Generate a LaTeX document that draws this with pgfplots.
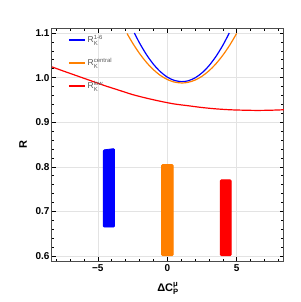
\documentclass[border=0pt]{standalone}
\usepackage{fontspec}
\setmainfont{Liberation Sans}
\usepackage{amsmath}
\usepackage{pgfplots}
\pgfplotsset{compat=1.18}
\definecolor{mblue}{rgb}{0,0,1}
\definecolor{morange}{rgb}{1,0.5,0}
\definecolor{mred}{rgb}{1,0,0}
\begin{document}
\begin{tikzpicture}[x=1pt,y=1pt]
\path (-52,-41) rectangle (248,261);
\begin{axis}[at={(0,0)}, anchor=south west, scale only axis, width=232pt, height=232pt,
  xmin=-8.3, xmax=8.4, ymin=0.589, ymax=1.109,
  xtick={-5,0,5}, xticklabels={−5,0,5},
  ytick={0.6,0.7,0.8,0.9,1.0,1.1}, yticklabels={0.6,0.7,0.8,0.9,1.0,1.1},
  minor xtick={-8,-7,-6,-4,-3,-2,-1,1,2,3,4,6,7,8},
  minor ytick={0.62,0.64,0.66,0.68,0.72,0.74,0.76,0.78,0.82,0.84,0.86,0.88,0.92,0.94,0.96,0.98,1.02,1.04,1.06,1.08},
  major tick length=4pt, minor tick length=2.5pt,
  tick style={black, line width=0.6pt},
  grid=major, major grid style={gray!22, line width=0.6pt},
  axis line style={gray!60!black, line width=1pt},
  ticklabel style={font=\bfseries\fontsize{10}{12}\selectfont},
  yticklabel style={xshift=1pt},
  xlabel={ΔC$^{\text{μ}}_{\text{P}}$}, ylabel={R},
  label style={font=\bfseries\fontsize{11}{13}\selectfont},
  ylabel style={at={(axis description cs:-0.125,0.5)}, anchor=center},
  xlabel style={at={(axis description cs:0.5,-0.118)}, anchor=center},
  legend style={at={(axis description cs:0.055,0.99)}, anchor=north west, draw=none, fill=none,
    font=\fontsize{8.5}{10}\selectfont\color{gray!70!black}, row sep=10.5pt, cells={anchor=west}},
  legend image code/.code={\draw[#1, line width=1.7pt] (0pt,0pt) -- (16pt,0pt);},
]
\addplot[mblue, line width=1.2pt, smooth] coordinates {
(-2.37,1.100) (-2,1.0777) (-1.5,1.0516) (-1,1.0301) (-0.5,1.0133) (0,1.0012) (0.5,0.9938)
(1.045,0.991) (1.5,0.9929) (2,0.9995) (2.5,1.0108) (3,1.0267) (3.5,1.0474) (4,1.0726) (4.46,1.100)};
\addlegendentry{R$_\text{K}^\text{1-6}$}
\addplot[morange, line width=1.2pt, smooth] coordinates {
(-2.9,1.099) (-2.5,1.0776) (-2,1.0541) (-1.5,1.0342) (-1,1.0178) (-0.5,1.0050) (0,0.9958)
(0.5,0.9901) (1.045,0.988) (1.5,0.9895) (2,0.9945) (2.5,1.0031) (3,1.0153) (3.5,1.0310)
(4,1.0503) (4.5,1.0731) (4.99,1.099)};
\addlegendentry{R$_\text{K}^\text{central}$}
\addplot[mred, line width=1.2pt, smooth] coordinates {
(-8.3,1.024) (-7.5,1.015) (-6.5,1.004) (-5.5,0.993) (-4.5,0.982) (-3.5,0.972) (-2.5,0.962)
(-1.5,0.954) (-0.5,0.947) (0.5,0.941) (1.5,0.937) (2.5,0.933) (3.5,0.930) (4.5,0.928)
(5.5,0.927) (6.5,0.9265) (7.5,0.927) (8.4,0.928)};
\addlegendentry{R$_\text{K}^\text{low}$}
\addplot[forget plot, fill=mblue, draw=mblue, line width=0.8pt, rounded corners=1pt] coordinates {
(-4.6,0.665) (-3.8,0.665) (-3.8,0.841) (-4.6,0.838)} -- cycle;
\addplot[forget plot, fill=morange, draw=morange, line width=0.8pt, rounded corners=1pt] coordinates {
(-0.42,0.601) (0.42,0.601) (0.42,0.805) (-0.42,0.805)} -- cycle;
\addplot[forget plot, fill=mred, draw=mred, line width=0.8pt, rounded corners=1pt] coordinates {
(3.82,0.601) (4.6,0.601) (4.6,0.771) (3.82,0.771)} -- cycle;
\end{axis}
\end{tikzpicture}
\end{document}
